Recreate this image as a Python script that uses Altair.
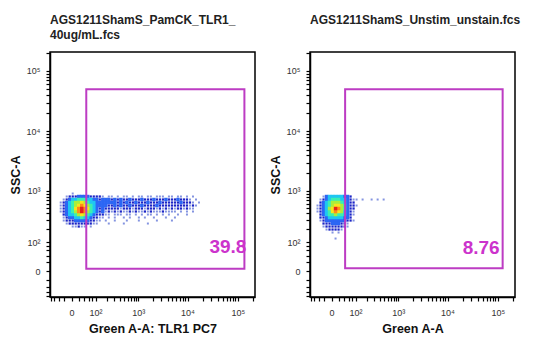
import altair as alt
import numpy as np
import pandas as pd

# ---------------- text ----------------
LEFT_TITLE = ["AGS1211ShamS_PamCK_TLR1_", "40ug/mL.fcs"]
RIGHT_TITLE = "AGS1211ShamS_Unstim_unstain.fcs"
X_TITLES = ["Green A-A: TLR1 PC7", "Green A-A"]
Y_TITLE = "SSC-A"

# ---------------- axes (biexponential-like display) ----------------
SYMLOG_C = 50
X_DOMAIN = [-84, 220000]
Y_DOMAIN = [-83, 205000]
MAJOR_TICKS = [0, 100, 1000, 10000, 100000]
MAJOR_LABELS = ["0", "10²", "10³", "10⁴", "10⁵"]
MINOR_TICKS = [-80, -60, -40, -20, 20, 40, 60, 80] + \
    [k * 10 ** e for e in (2, 3, 4) for k in range(2, 10)] + [200000]

# ---------------- gates ----------------
GATE_X1 = [48, 43]
GATE_X2 = [135500, 125000]
GATE_Y1 = [5, 6]
GATE_Y2 = [50000, 50000]
GATE_PCT = ["39.8", "8.76"]

# ---------------- density raster (0 = empty, 1..9 = low..high) ----------------
# raster cell centres on the display scale (symlog units)
LEFT_COL0, RIGHT_COL0, COL_STEP = -0.497, -0.6425, 0.1375
ROW0, ROW_STEP = 2.949, -0.1139

LEFT_DENSITY = [
    "00001000000000" + "000000000000000000000000000000000000",
    "00122233332222" + "101101011010110110111011011010100000",
    "01234455544332" + "333232322322232223222322232221010000",
    "12345667654433" + "333332323223222322232222223222101000",
    "12345678765433" + "332232322322232222322222222221210000",
    "12345789875432" + "322222122212221222121212122121100000",
    "12345689865432" + "312121211212112121112111101010100000",
    "02344567654322" + "211011101101010110101010010010000000",
    "01233445443221" + "101010010100101001000100100000000000",
    "01222333332211" + "010010001000100000100001000000000000",
    "00122222222110" + "001000010000000100000000000000000000",
    "00001121101000",
]
RIGHT_DENSITY = [
    "00000000000000",
    "00134444433200",
    "01234555443211" + "010010101",
    "02345666543220",
    "12345677653221",
    "12346798653220",
    "12345787643210",
    "02345565543210",
    "02234444433200",
    "01233333332210",
    "00222333221000",
    "00122222221000",
    "00012222100000",
    "00000101000000",
    "00000000000000",
    "00000010000000",
]

LEVEL_COLORS = ["#8494e0", "#1b24c6", "#2c66f4", "#1fc6f2", "#3cefb2",
                "#a9ef3c", "#f6e51e", "#ff8a1a", "#e4231a"]
MAGENTA = "#bd3cc3"
TEXT_MAGENTA = "#cc33cc"
FONT = "Liberation Sans"


def inv_symlog(f):
    return np.sign(f) * SYMLOG_C * np.expm1(np.abs(f))


def raster(rows, col0):
    recs = []
    for r, row in enumerate(rows):
        for c, ch in enumerate(row):
            lv = int(ch)
            if lv > 0:
                recs.append({"x": float(inv_symlog(col0 + c * COL_STEP)),
                             "y": float(inv_symlog(ROW0 + r * ROW_STEP)),
                             "level": lv})
    return pd.DataFrame(recs).sort_values("level")


label_expr = " : ".join(
    f"datum.value == {v} ? '{l}'" for v, l in zip(MAJOR_TICKS, MAJOR_LABELS)
) + " : ''"


def make_axis(title, orient):
    return alt.Axis(
        title=title,
        values=MAJOR_TICKS + MINOR_TICKS,
        labelExpr=label_expr,
        labelOverlap=False,
        labelFlush=False,
        grid=False,
        domainColor="black",
        domainWidth=1.5,
        tickColor="black",
        tickSize=4,
        tickWidth=1.2,
        labelFont=FONT,
        labelFontSize=9,
        labelColor="#333333",
        labelPadding=6 if orient == "left" else 7,
        titleFont=FONT,
        titleFontSize=12.5,
        titleFontWeight="bold",
        titleColor="#111111",
        titlePadding=4 if orient == "left" else 5,
    )


xs = alt.Scale(type="symlog", constant=SYMLOG_C, domain=X_DOMAIN, nice=False, zero=False)
ys = alt.Scale(type="symlog", constant=SYMLOG_C, domain=Y_DOMAIN, nice=False, zero=False)


def panel(i, rows, col0, title, title_offset, text_dx, text_dy):
    cells = raster(rows, col0)
    gate = pd.DataFrame({"x1": [GATE_X1[i]], "x2": [GATE_X2[i]],
                         "y1": [GATE_Y1[i]], "y2": [GATE_Y2[i]],
                         "pct": [GATE_PCT[i]]})
    xa = make_axis(X_TITLES[i], "bottom")
    ya = make_axis(Y_TITLE, "left")
    dens = alt.Chart(cells).mark_square(strokeWidth=0, opacity=1).encode(
        x=alt.X("x:Q", scale=xs, axis=xa),
        y=alt.Y("y:Q", scale=ys, axis=ya),
        color=alt.Color("level:O", scale=alt.Scale(domain=list(range(1, 10)), range=LEVEL_COLORS), legend=None),
        size=alt.Size("level:Q", scale=alt.Scale(type="threshold", domain=[2, 3], range=[4, 5, 12]), legend=None),
        order=alt.Order("level:Q"),
    )
    box = alt.Chart(gate).mark_rect(fillOpacity=0, stroke=MAGENTA, strokeWidth=2).encode(
        x=alt.X("x1:Q", scale=xs, axis=xa), x2="x2:Q",
        y=alt.Y("y1:Q", scale=ys, axis=ya), y2="y2:Q")
    txt = alt.Chart(gate).mark_text(align="right", baseline="bottom", dx=text_dx, dy=text_dy,
                                    font=FONT, fontSize=19, fontWeight="bold",
                                    color=TEXT_MAGENTA).encode(
        x=alt.X("x2:Q", scale=xs, axis=xa), y=alt.Y("y1:Q", scale=ys, axis=ya), text="pct:N")
    return alt.layer(dens, box, txt).properties(
        width=205, height=245,
        title=alt.TitleParams(text=title, anchor="start", frame="group", font=FONT,
                              fontSize=12, fontWeight="bold", color="#222222",
                              lineHeight=15, offset=title_offset),
    )


left = panel(0, LEFT_DENSITY, LEFT_COL0, LEFT_TITLE, 7, 2, -12)
right = panel(1, RIGHT_DENSITY, RIGHT_COL0, RIGHT_TITLE, 22, -3, -10)

chart = alt.hconcat(left, right, spacing=55, bounds="flush").properties(
    padding={"left": 0, "top": 4, "right": 5, "bottom": 5}
).configure_view(stroke="black", strokeWidth=1.5)

chart.save("out.html", embed_options={"renderer": "svg", "actions": False})
